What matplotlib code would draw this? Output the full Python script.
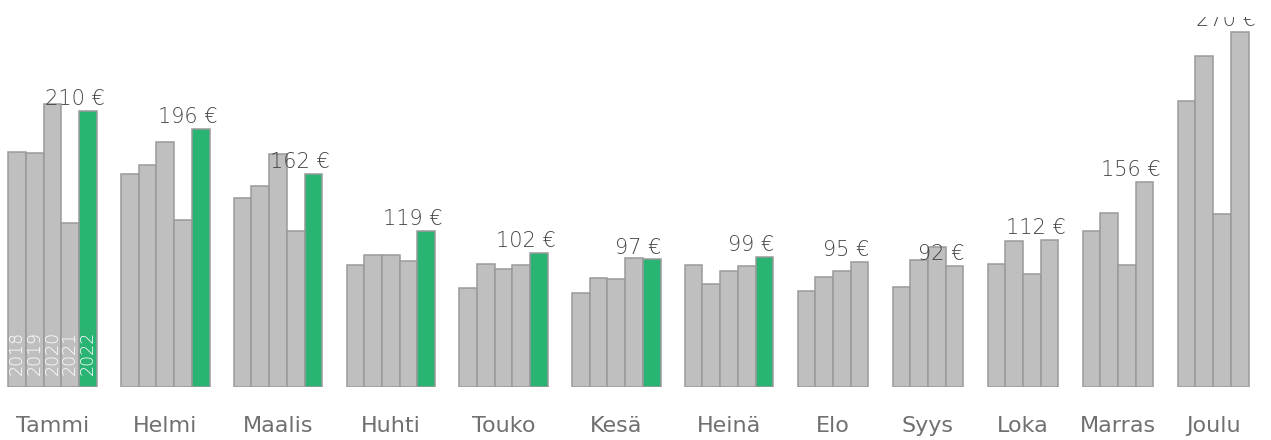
import matplotlib.pyplot as plt

# monthly values per year (€)
months = ['Tammi', 'Helmi', 'Maalis', 'Huhti', 'Touko', 'Kesä',
          'Heinä', 'Elo', 'Syys', 'Loka', 'Marras', 'Joulu']
years = ['2018', '2019', '2020', '2021', '2022']
v2018 = [178.7, 162.3, 144.0, 92.5, 75.6, 71.5, 92.5, 73.0, 76.0, 93.5, 118.6, 217.2]
v2019 = [178.3, 168.6, 152.6, 100.2, 93.8, 82.9, 78.6, 83.7, 96.3, 110.8, 132.3, 251.4]
v2020 = [215.0, 186.3, 177.5, 100.2, 89.7, 81.9, 88.0, 88.0, 106.5, 86.2, 92.8, 131.3]
v2021 = [125.0, 127.3, 118.6, 95.8, 92.5, 98.1, 92.0, 95.0, 92.0, 112.0, 156.0, 270.0]
v2022 = [210, 196, 162, 119, 102, 97, 99, None, None, None, None, None]

gray = '#bfbfbf'
green = '#29b473'
edge = '#9a9a9a'
gap = 1.37  # gap between months, in bar widths

fig = plt.figure(figsize=(12.71, 4.40), dpi=100)
# plot area: baseline at 387px, top at 17px (labels get clipped there)
ax = fig.add_axes([0, 53 / 440, 1, 370 / 440])

series = [v2018, v2019, v2020, v2021, v2022]
x = 0.0
centers = []
for m in range(len(months)):
    start = x
    last = None
    for k, s in enumerate(series):
        v = s[m]
        if v is None:
            continue
        col = green if k == 4 else gray
        ax.bar(x, v, width=1, align='edge', color=col, edgecolor=edge, linewidth=1.1)
        if m == 0:
            ax.text(x + 0.5, 9, years[k], rotation=90, color='white', fontsize=12.5,
                    fontweight='light', ha='center', va='bottom')
        last = (x, v)
        x += 1
    centers.append((start + x) / 2)
    lx, lv = last
    ax.text(lx + 0.5 - 0.75, lv + 4.5, f'{lv:.0f} €', fontsize=15, color='#444444',
            fontweight='light', ha='center', va='baseline', clip_on=True)
    x += gap

ax.set_xlim(-8.3 / 17.7, (1271 - 8.3) / 17.7)
ax.set_ylim(0, 370 / 1.315)
ax.set_xticks(centers, months, fontsize=16, color='#707070')
ax.tick_params(axis='x', length=0, pad=21)
ax.set_yticks([])
for sp in ax.spines.values():
    sp.set_visible(False)

plt.savefig('out.png', dpi=100)
